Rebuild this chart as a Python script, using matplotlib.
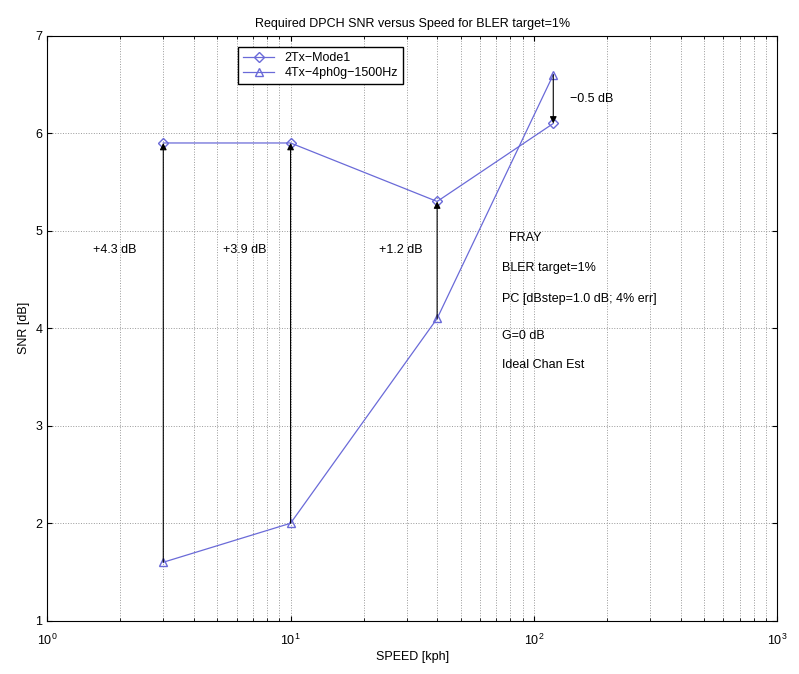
import matplotlib
matplotlib.use('Agg')
import matplotlib.pyplot as plt

plt.rcParams['font.family'] = ['Liberation Sans', 'DejaVu Sans']

speed = [3, 10, 40, 120]
snr_2tx = [5.9, 5.9, 5.3, 6.1]
snr_4tx = [1.6, 2.0, 4.1, 6.6]
gain_labels = ['+4.3 dB', '+3.9 dB', '+1.2 dB', '\u22120.5 dB']
gain_label_pos = [(1.55, 4.8), (5.3, 4.8), (23, 4.8), (140, 6.35)]
info_lines = ['FRAY', 'BLER target=1%', 'PC [dBstep=1.0 dB; 4% err]',
              'G=0 dB', 'Ideal Chan Est']
info_y = [4.93, 4.62, 4.3, 3.92, 3.62]
info_x = [79, 74, 74, 74, 74]

color = '#6a6ad8'

fig = plt.figure(figsize=(7.99, 6.74), dpi=100)
ax = fig.add_axes([0.059, 0.079, 0.914, 0.868])

ax.plot(speed, snr_2tx, color=color, lw=0.9, marker='D', ms=5,
        mfc='none', mec=color, label='2Tx\u2212Mode1')
ax.plot(speed, snr_4tx, color=color, lw=0.9, marker='^', ms=6,
        mfc='none', mec=color, label='4Tx\u22124ph0g\u22121500Hz')

for s, lo, hi in zip(speed, snr_4tx, snr_2tx):
    ax.annotate('', xy=(s, hi), xytext=(s, lo),
                arrowprops=dict(arrowstyle='-|>', color='black', lw=0.8,
                                mutation_scale=10, shrinkA=0, shrinkB=0))

for txt, (x, y) in zip(gain_labels, gain_label_pos):
    ax.text(x, y, txt, fontsize=9, va='center')

for txt, x, y in zip(info_lines, info_x, info_y):
    ax.text(x, y, txt, fontsize=9, va='center')

ax.set_xscale('log')
ax.set_xlim(1, 1000)
ax.set_ylim(1, 7)
ax.set_yticks([1, 2, 3, 4, 5, 6, 7])
ax.grid(True, which='major', axis='both', ls=':', color='#999999', lw=0.7)
ax.grid(True, which='minor', axis='x', ls=':', color='#999999', lw=0.7)
ax.tick_params(which='both', direction='in', top=True, right=True, labelsize=9)
ax.tick_params(axis='x', which='major', pad=9)

ax.set_xlabel('SPEED [kph]', fontsize=9, labelpad=2)
ax.set_ylabel('SNR [dB]', fontsize=9)
ax.set_title('Required DPCH SNR versus Speed for BLER target=1%', fontsize=9)

ax.legend(loc='upper left', bbox_to_anchor=(0.258, 0.985), fontsize=9,
          fancybox=False, edgecolor='black', framealpha=1,
          borderpad=0.4, labelspacing=0.25, handlelength=2.5,
          borderaxespad=0.2)

fig.savefig('out.png', dpi=100)
